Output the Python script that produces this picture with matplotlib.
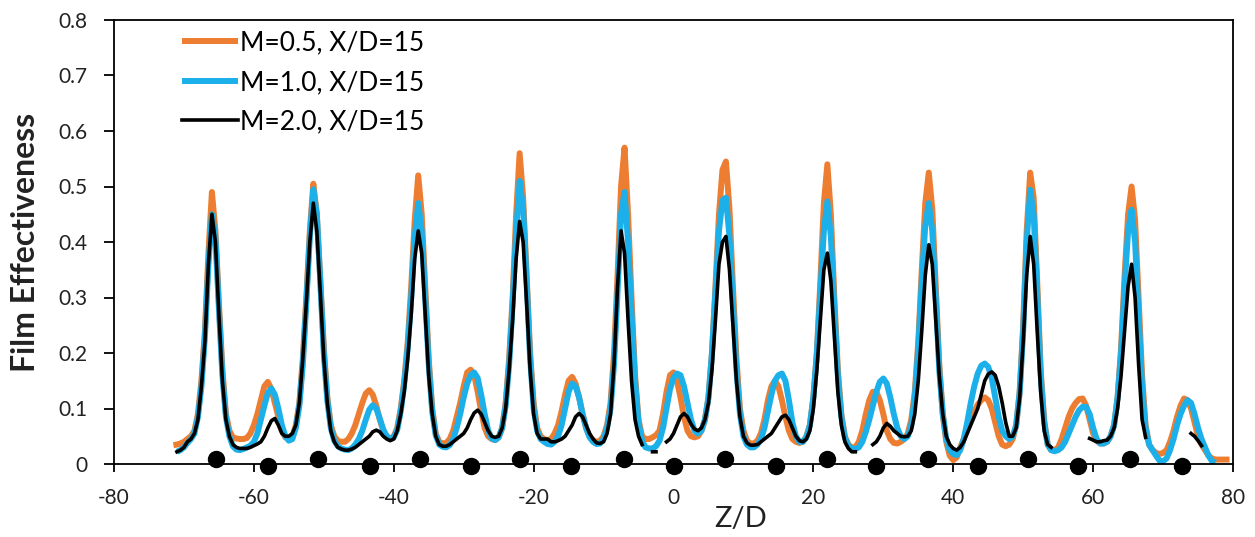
import matplotlib
matplotlib.use("Agg")
import matplotlib.pyplot as plt
import numpy as np

nan = np.nan

# spanwise position Z/D, sampled every 0.5
z = np.arange(-72.0, 79.75, 0.5)

eta_m05 = [
    nan, .034, .035, .037, .040, .045, .050, .060, .090, .150,   # -72
    .24, .38, .49, .42, .29, .17, .09, .06, .048, .046,          # -67
    .045, .045, .047, .055, .07, .09, .115, .14, .148, .135,     # -62
    .11, .085, .06, .048, .045, .05, .07, .11, .19, .30,         # -57
    .42, .505, .45, .33, .21, .12, .07, .05, .042, .04,          # -52
    .04, .045, .055, .07, .09, .11, .127, .133, .125, .105,      # -47
    .08, .06, .05, .046, .05, .065, .10, .15, .22, .32,          # -42
    .44, .52, .45, .32, .19, .10, .055, .04, .037, .038,         # -37
    .045, .06, .085, .11, .14, .165, .17, .16, .13, .095,        # -32
    .065, .05, .045, .043, .048, .065, .11, .19, .30, .45,       # -27
    .56, .48, .34, .20, .11, .065, .05, .045, .043, .045,        # -22
    .055, .07, .095, .125, .15, .157, .145, .12, .09, .065,      # -17
    .05, .043, .04, .042, .05, .07, .11, .20, .34, .50,          # -12
    .57, .45, .30, .16, .08, .05, .045, .045, .048, .052,        # -7
    .06, .09, .13, .16, .165, .15, .12, .085, .06, .05,          # -2
    .048, .05, .06, .08, .12, .20, .32, .45, .53, .545,          # 3
    .46, .32, .19, .10, .06, .042, .037, .037, .042, .055,       # 8
    .08, .115, .14, .15, .14, .115, .085, .06, .045, .04,        # 13
    .038, .04, .05, .07, .12, .20, .33, .47, .54, .45,           # 18
    .30, .17, .09, .05, .035, .03, .03, .04, .06, .09,           # 23
    .115, .13, .13, .115, .09, .06, .045, .038, .037, .04,       # 28
    .045, .055, .08, .13, .22, .35, .47, .525, .46, .32,         # 33
    .18, .09, .04, .015, .007, .012, .03, .045, .062, .08,       # 38
    .095, .107, .115, .12, .115, .10, .075, .05, .035, .032,     # 43
    .035, .045, .07, .13, .25, .42, .525, .48, .33, .17,         # 48
    .08, .035, .025, .025, .03, .045, .065, .085, .10, .11,      # 53
    .117, .118, .105, .08, .055, .042, .037, .037, .04, .05,     # 58
    .07, .12, .21, .34, .45, .50, .44, .30, .16, .07,            # 63
    .035, .025, .02, .018, .02, .025, .04, .06, .085, .105,      # 68
    .118, .115, .10, .075, .05, .035, .025, .015, .01, .008,     # 73
    .008, .008, .008, .008,                                      # 78
]

eta_m10 = [
    nan, nan, .022, .025, .030, .038, .045, .055, .085, .14,
    .23, .36, .45, .41, .28, .16, .085, .05, .032, .026,
    .025, .027, .030, .033, .040, .055, .080, .105, .128, .136,
    .125, .10, .07, .05, .042, .045, .065, .105, .18, .29,
    .41, .495, .45, .33, .20, .115, .065, .042, .032, .028,
    .026, .025, .028, .035, .045, .06, .08, .098, .106, .10,
    .082, .062, .05, .045, .048, .062, .095, .145, .21, .30,
    .41, .47, .42, .30, .18, .095, .052, .035, .031, .030,
    .034, .045, .065, .09, .12, .145, .16, .165, .155, .125,
    .09, .06, .046, .043, .048, .065, .105, .18, .29, .42,
    .51, .46, .33, .19, .10, .06, .045, .04, .036, .035,
    .04, .05, .07, .10, .13, .145, .14, .12, .09, .065,
    .048, .04, .036, .037, .045, .065, .10, .18, .31, .45,
    .49, .40, .27, .15, .075, .042, .03, .028, .028, .032,
    .042, .065, .10, .135, .155, .163, .16, .14, .11, .08,
    .06, .055, .06, .08, .12, .20, .31, .42, .475, .48,
    .41, .29, .17, .09, .05, .035, .03, .03, .035, .045,
    .065, .095, .125, .15, .16, .163, .15, .115, .075, .05,
    .04, .04, .048, .07, .12, .20, .31, .42, .473, .41,
    .28, .16, .085, .048, .033, .028, .027, .03, .04, .058,
    .08, .105, .13, .148, .154, .145, .12, .09, .065, .05,
    .045, .05, .07, .12, .21, .33, .43, .47, .42, .30,
    .17, .09, .045, .025, .018, .016, .025, .045, .075, .11,
    .14, .163, .177, .181, .175, .155, .12, .085, .06, .05,
    .045, .05, .07, .13, .24, .40, .494, .45, .31, .16,
    .075, .035, .025, .023, .025, .03, .04, .055, .07, .085,
    .097, .103, .103, .09, .065, .045, .037, .037, .04, .05,
    .07, .12, .20, .32, .42, .458, .40, .27, .14, .065,
    .035, .025, .015, .006, .005, .01, .025, .045, .07, .09,
    .105, .115, .11, .09, .065, .045, .03, .015, .005, .002,
    nan, nan, nan, nan,
]

eta_m20 = [
    nan, nan, .022, .025, .03, .04, .045, .055, .08, .14,
    .22, .36, .45, .40, .27, .15, .08, .05, .035, .03,
    .028, .028, .028, .03, .033, .036, .04, .05, .065, .078,
    .082, .07, .055, .05, .05, .055, .07, .11, .19, .29,
    .40, .47, .42, .31, .19, .11, .06, .04, .03, .027,
    .025, .025, .027, .03, .035, .04, .045, .05, .058, .061,
    .058, .05, .045, .042, .045, .06, .09, .13, .19, .27,
    .37, .42, .38, .27, .16, .09, .05, .035, .032, .032,
    .035, .04, .045, .05, .055, .065, .08, .092, .097, .09,
    .075, .06, .05, .048, .05, .065, .10, .17, .26, .37,
    .437, .40, .29, .17, .09, .055, .045, .045, .045, .04,
    .04, .042, .045, .05, .06, .07, .085, .091, .085, .07,
    .055, .045, .038, .037, .04, .055, .09, .18, .32, .42,
    .38, .26, .15, .08, .05, .035, nan, nan, .022, .022,
    nan, nan, .04, .045, .055, .07, .085, .091, .085, .072,
    .063, .06, .065, .08, .11, .17, .26, .36, .40, .41,
    .35, .25, .15, .085, .05, .038, .034, .034, .035, .04,
    .045, .05, .055, .065, .075, .085, .088, .08, .065, .05,
    .042, .04, .045, .06, .10, .17, .26, .35, .38, .33,
    .23, .13, .07, .04, .028, .022, .022, nan, nan, nan,
    nan, .035, .04, .05, .065, .073, .068, .06, .055, .05,
    .049, .05, .06, .09, .15, .24, .34, .395, .36, .26,
    .16, .09, .05, .035, .028, .025, .03, .04, .055, .07,
    .085, .10, .125, .15, .162, .166, .16, .14, .11, .075,
    .05, .05, .065, .12, .22, .34, .41, .36, .24, .13,
    .06, .035, .03, nan, nan, nan, nan, nan, nan, nan,
    nan, nan, nan, .046, .043, .04, .04, .042, .043, .05,
    .065, .10, .16, .24, .32, .36, .30, .18, .08, .048,
    nan, nan, nan, nan, nan, nan, nan, nan, nan, nan,
    nan, nan, .055, .05, .042, .033, nan, nan, nan, nan,
    nan, nan, nan, nan,
]

# cooling hole centres, two staggered rows
holes_up = [-65.4, -50.9, -36.3, -21.9, -7.1, 7.4, 21.9, 36.4, 50.7, 65.3]
holes_dn = [-58.0, -43.4, -28.9, -14.6, 0.1, 14.6, 29.0, 43.6, 57.9, 72.7]

labels = ["M=0.5, X/D=15", "M=1.0, X/D=15", "M=2.0, X/D=15"]

plt.rcParams["font.family"] = ["Lato", "DejaVu Sans"]
plt.rcParams["axes.unicode_minus"] = False

fig = plt.figure(figsize=(12.55, 5.37), dpi=100)
ax = fig.add_axes([114 / 1255, 1 - 464 / 537, 1119 / 1255, 444 / 537])

ax.plot(z, eta_m05, color="#ED7D31", lw=4.3, label=labels[0], solid_capstyle="butt")
ax.plot(z, eta_m10, color="#1CB0EA", lw=4.3, label=labels[1], solid_capstyle="butt")
ax.plot(z, eta_m20, color="black", lw=2.6, label=labels[2])

ax.plot(holes_up, [0.009] * len(holes_up), "o", color="black", ms=11.5, clip_on=False, zorder=5)
ax.plot(holes_dn, [-0.003] * len(holes_dn), "o", color="black", ms=11.5, clip_on=False, zorder=5)

ax.set_xlim(-80, 80)
ax.set_ylim(0, 0.8)
ax.set_xticks(np.arange(-80, 81, 20))
ax.set_yticks(np.arange(0, 0.81, 0.1))
ax.set_yticklabels(["0"] + ["%.1f" % v for v in np.arange(0.1, 0.81, 0.1)])

for s in ax.spines.values():
    s.set_linewidth(1.3)
ax.tick_params(axis="y", direction="out", length=7, width=1.3, pad=12, labelsize=15, labelcolor="#222222")
ax.tick_params(axis="x", direction="out", length=6, width=1.3, pad=11, labelsize=15, labelcolor="#222222")

ax.set_ylabel("Film Effectiveness", fontsize=23, fontweight="bold", color="#222222")
ax.yaxis.set_label_coords(-0.066, 0.5)
ax.set_xlabel("Z/D", fontsize=21, color="#222222")
ax.xaxis.set_label_coords(0.56, -0.095)

ax.legend(loc="upper left", bbox_to_anchor=(0.061, 0.976), frameon=False, fontsize=19,
          handlelength=2.1, handletextpad=0.1, labelspacing=0.55, borderpad=0,
          borderaxespad=0)

fig.savefig("out.png", dpi=100)
